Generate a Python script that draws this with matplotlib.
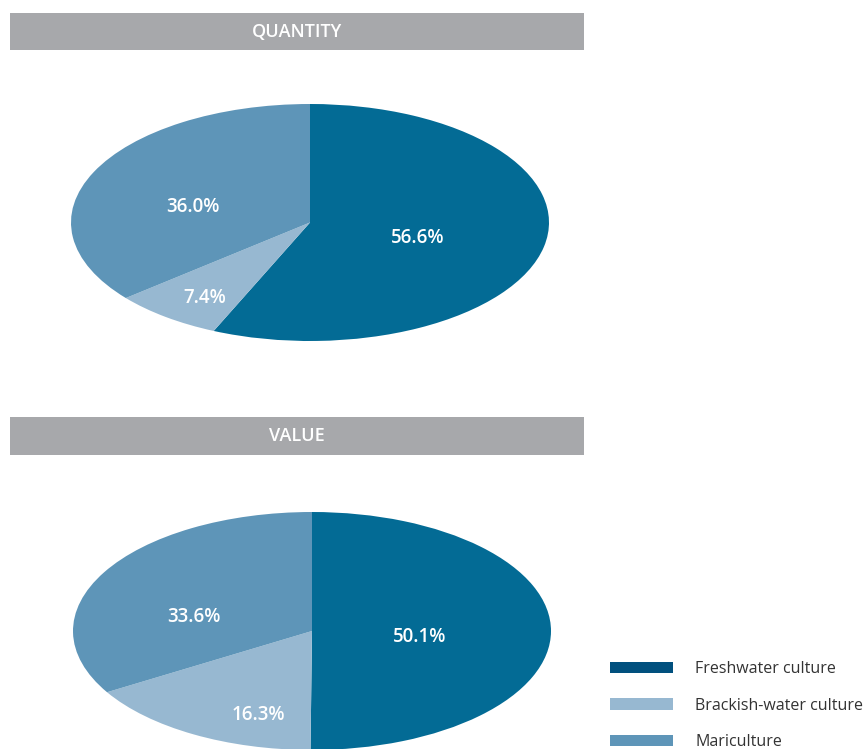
import matplotlib
matplotlib.use('Agg')
import matplotlib.pyplot as plt
from matplotlib.patches import Patch

plt.rcParams['font.family'] = ['Open Sans', 'DejaVu Sans']

# data
categories = ['Freshwater culture', 'Brackish-water culture', 'Mariculture']
quantity_share = [56.6, 7.4, 36.0]
value_share = [50.1, 16.3, 33.6]
panel_titles = ['QUANTITY', 'VALUE']

# styles
pie_colors = ['#036b95', '#97b8d1', '#5e95b8']
legend_colors = ['#01507e', '#97b8d1', '#5e95b8']
bar_gray = '#a7a8ab'

# label spots inside each ellipse (axes units, -1..1)
quantity_label_pos = [(0.452, -0.127), (-0.44, -0.633), (-0.49, 0.135)]
value_label_pos = [(0.452, -0.05), (-0.226, -0.706), (-0.494, 0.118)]

fig = plt.figure(figsize=(8.64, 7.49), dpi=100)
W, H = 864, 749


def px_axes(x0, y0, x1, y1):
    # pixel box (from top-left) -> figure axes
    return fig.add_axes([x0 / W, 1 - y1 / H, (x1 - x0) / W, (y1 - y0) / H])


def title_bar(box, text):
    ax = px_axes(*box)
    ax.set_facecolor(bar_gray)
    ax.set_xticks([])
    ax.set_yticks([])
    for s in ax.spines.values():
        s.set_visible(False)
    ax.text(0.5, 0.5, text, color='white', fontsize=13, fontweight='semibold',
            ha='center', va='center', transform=ax.transAxes)


def ellipse_pie(box, values, label_pos):
    ax = px_axes(*box)
    wedges, _ = ax.pie(values, colors=pie_colors, startangle=90, counterclock=False,
                       radius=1, wedgeprops=dict(linewidth=0))
    ax.set_aspect('auto')
    ax.set_xlim(-1, 1)
    ax.set_ylim(-1, 1)
    ax.axis('off')
    for v, (x, y) in zip(values, label_pos):
        ax.text(x, y, f'{v:.1f}%', color='white', fontsize=13.5, fontweight='semibold',
                ha='center', va='center')


title_bar((10, 13, 584, 50), panel_titles[0])
ellipse_pie((71, 104, 549, 341), quantity_share, quantity_label_pos)

title_bar((10, 417, 584, 455), panel_titles[1])
ellipse_pie((73, 512, 551, 750), value_share, value_label_pos)

handles = [Patch(facecolor=c, edgecolor='none') for c in legend_colors]
fig.legend(handles, categories, loc='upper left', bbox_to_anchor=(596 / W, 1 - 647 / H),
           frameon=False, fontsize=11.5, handlelength=3.9, handleheight=0.72,
           handletextpad=1.4, labelspacing=1.27, labelcolor='#333333')

fig.savefig('out.png', dpi=100)
